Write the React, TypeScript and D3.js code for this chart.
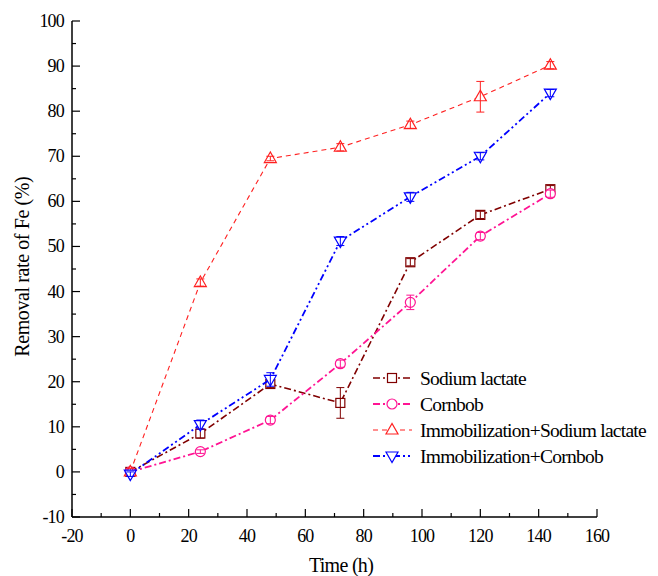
import React from "react";
import * as d3 from "d3";

const times = [0, 24, 48, 72, 96, 120, 144];
const sodiumLactate = [0, 8.5, 19.5, 15.3, 46.5, 57, 62.7];
const sodiumLactateErr = [0.5, 1, 0.8, 3.4, 0.8, 0.8, 0.8];
const cornbob = [0, 4.5, 11.5, 24, 37.6, 52.3, 61.7];
const cornbobErr = [0.3, 0.4, 0.8, 0.8, 1.6, 0.8, 0.8];
const immSL = [0, 42, 69.5, 72, 77, 83.2, 90.2];
const immSLErr = [0.8, 0.8, 0.5, 0.8, 0.8, 3.4, 0.8];
const immCornbob = [-0.5, 10.5, 20.5, 51.2, 61, 70, 84];
const immCornbobErr = [0.5, 1, 1.5, 1, 1, 0.8, 0.8];

const seriesNames = ["Sodium lactate", "Cornbob", "Immobilization+Sodium lactate", "Immobilization+Cornbob"];
const xTicks = [-20, 0, 20, 40, 60, 80, 100, 120, 140, 160];
const yTicks = [-10, 0, 10, 20, 30, 40, 50, 60, 70, 80, 90, 100];

const series = [
  { name: seriesNames[0], values: sodiumLactate, err: sodiumLactateErr, color: "#800000", dash: "7,3,2,3", width: 1.6, marker: "square" },
  { name: seriesNames[1], values: cornbob, err: cornbobErr, color: "#FF1493", dash: "7,3,2,3", width: 1.8, marker: "circle" },
  { name: seriesNames[2], values: immSL, err: immSLErr, color: "#FF2020", dash: "5,4", width: 1.1, marker: "up" },
  { name: seriesNames[3], values: immCornbob, err: immCornbobErr, color: "#0000FF", dash: "7,3,2,3,2,3", width: 1.8, marker: "down" },
];

const FONT = '"Liberation Serif", "Times New Roman", serif';

function Marker({ type, x, y, color }: { type: string; x: number; y: number; color: string }) {
  const s = 4.5;
  if (type === "square")
    return <rect x={x - s} y={y - s} width={2 * s} height={2 * s} fill="white" stroke={color} strokeWidth={1.2} />;
  if (type === "circle") return <circle cx={x} cy={y} r={5} fill="white" stroke={color} strokeWidth={1.2} />;
  if (type === "up") {
    const p = `${x},${y - 6.5} ${x - 6},${y + 4} ${x + 6},${y + 4}`;
    return <polygon points={p} fill="white" stroke={color} strokeWidth={1.2} />;
  }
  const p = `${x},${y + 6.5} ${x - 6},${y - 4} ${x + 6},${y - 4}`;
  return <polygon points={p} fill="white" stroke={color} strokeWidth={1.2} />;
}

export default function App() {
  const W = 658, H = 576;
  const x = d3.scaleLinear().domain([-20, 160]).range([72, 597]);
  const y = d3.scaleLinear().domain([-10, 100]).range([517, 21]);
  const line = d3
    .line<number>()
    .x((_, i) => x(times[i]))
    .y((v) => y(v));

  const xMinor = d3.range(-20, 161, 10);
  const yMinor = d3.range(-10, 101, 5);

  return (
    <svg width={W} height={H} style={{ position: "absolute", left: 0, top: 0, background: "white" }}>
      {/* axes */}
      <line x1={x(-20)} x2={x(160)} y1={y(-10)} y2={y(-10)} stroke="black" strokeWidth={1.5} />
      <line x1={x(-20)} x2={x(-20)} y1={y(-10)} y2={y(100)} stroke="black" strokeWidth={1.5} />
      {xMinor.map((t) => {
        const major = t % 20 === 0;
        return <line key={"xt" + t} x1={x(t)} x2={x(t)} y1={y(-10)} y2={y(-10) - (major ? 8 : 4)} stroke="black" strokeWidth={1.2} />;
      })}
      {yMinor.map((t) => {
        const major = t % 10 === 0;
        return <line key={"yt" + t} x1={x(-20)} x2={x(-20) + (major ? 8 : 4)} y1={y(t)} y2={y(t)} stroke="black" strokeWidth={1.2} />;
      })}
      {xTicks.map((t) => (
        <text key={"xl" + t} x={x(t)} y={y(-10) + 25} textAnchor="middle" fontSize={18} letterSpacing={-0.8} style={{ fontFamily: FONT }}>
          {t}
        </text>
      ))}
      {yTicks.map((t) => (
        <text key={"yl" + t} x={x(-20) - 8} y={y(t) + 6} textAnchor="end" fontSize={18} letterSpacing={-0.8} style={{ fontFamily: FONT }}>
          {t}
        </text>
      ))}
      <text x={341} y={572} textAnchor="middle" fontSize={20} letterSpacing={-0.7} style={{ fontFamily: FONT }}>
        Time (h)
      </text>
      <text transform={`translate(29, ${y(45.5)}) rotate(-90)`} textAnchor="middle" fontSize={20} letterSpacing={-0.4} style={{ fontFamily: FONT }}>
        Removal rate of Fe (%)
      </text>

      {/* series */}
      {series.map((s) => (
        <g key={s.name}>
          <path d={line(s.values) || ""} fill="none" stroke={s.color} strokeWidth={s.width} strokeDasharray={s.dash} />
          {s.values.map((v, i) => {
            const cx = x(times[i]);
            const top = y(v + s.err[i]);
            const bot = y(v - s.err[i]);
            return (
              <g key={i}>
                <Marker type={s.marker} x={cx} y={y(v)} color={s.color} />
                <line x1={cx} x2={cx} y1={top} y2={bot} stroke={s.color} strokeWidth={1} />
                <line x1={cx - 4} x2={cx + 4} y1={top} y2={top} stroke={s.color} strokeWidth={1} />
                <line x1={cx - 4} x2={cx + 4} y1={bot} y2={bot} stroke={s.color} strokeWidth={1} />
              </g>
            );
          })}
        </g>
      ))}

      {/* legend */}
      {series.map((s, i) => {
        const ly = 378 + i * 26;
        return (
          <g key={"lg" + i}>
            <line x1={373} x2={412} y1={ly} y2={ly} stroke={s.color} strokeWidth={s.width} strokeDasharray={s.dash} />
            <Marker type={s.marker} x={392} y={ly} color={s.color} />
            <text x={420} y={ly + 7} fontSize={19.5} letterSpacing={-0.75} style={{ fontFamily: FONT }}>
              {s.name}
            </text>
          </g>
        );
      })}
    </svg>
  );
}
